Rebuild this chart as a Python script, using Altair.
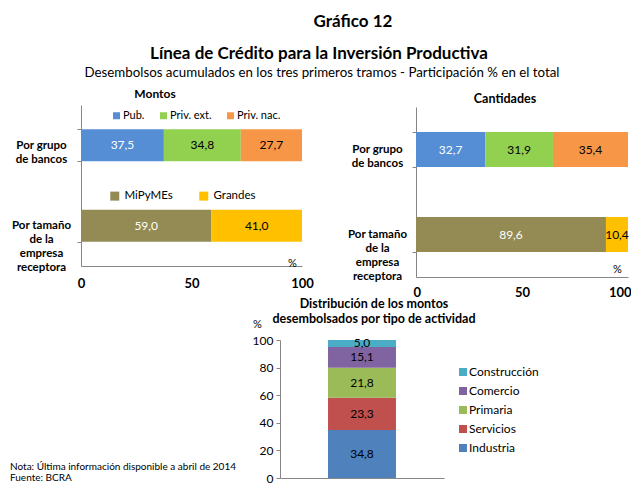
import altair as alt
import pandas as pd

FONT = "Lato"
GRAY = "#868686"
W, H = 623, 476          # whole drawing area (page minus 8px margin)

# ---------------- data ----------------
filas = ["Por grupo\nde bancos", "Por tamaño\nde la\nempresa\nreceptora"]
grupos = ["Pub.", "Priv. ext.", "Priv. nac."]
tamanos = ["MiPyMEs", "Grandes"]
montos_grupo = [37.5, 34.8, 27.7]
montos_tamano = [59.0, 41.0]
cant_grupo = [32.7, 31.9, 35.4]
cant_tamano = [89.6, 10.4]
actividades = ["Industria", "Servicios", "Primaria", "Comercio", "Construcción"]
act_vals = [34.8, 23.3, 21.8, 15.1, 5.0]
x_ticks = [0, 50, 100]
y_ticks = [0, 20, 40, 60, 80, 100]
titulo = "Gráfico 12"
titulo2 = "Línea de Crédito para la Inversión Productiva"
subtitulo = "Desembolsos acumulados en los tres primeros tramos - Participación % en el total"
t_montos = "Montos"
t_cant = "Cantidades"
t_dist = ["Distribución de los montos", "desembolsados por tipo de actividad"]
notas = ["Nota: Última información disponible a abril de 2014", "Fuente: BCRA"]
blancos = ["Pub.", "MiPyMEs"]

col_grupos = ["#558ED5", "#92D050", "#F79646"]
col_tamanos = ["#948A54", "#FFC000"]
col_act = ["#4F81BD", "#C0504D", "#9BBB59", "#8064A2", "#4BACC6"]


def stacked(fila, series, vals):
    rows, acc = [], 0.0
    for i, (s, v) in enumerate(zip(series, vals)):
        rows.append({"fila": fila, "serie": s, "val": v, "x0": acc,
                     "x1": acc + v, "mid": acc + v / 2, "orden": i})
        acc += v
    return pd.DataFrame(rows)


LBL = "replace(format(datum.val, '.1f'), '.', ',')"
TC = "indexof(" + str(blancos) + ", datum.serie) >= 0 ? 'white' : 'black'"


def label(txt, x, y, size, weight="normal", align="center"):
    return alt.Chart(pd.DataFrame({"t": [txt]})).mark_text(
        font=FONT, fontSize=size, fontWeight=weight, align=align,
        baseline="alphabetic", color="black").encode(
        x=alt.value(x), y=alt.value(y), text="t:N")


def panel(g_vals, t_vals, xr, yr, pin, pout, pct_x, pct_y, lpad, xpad, flush, show_leg):
    df_g = stacked(filas[0], grupos, g_vals)
    df_t = stacked(filas[1], tamanos, t_vals)
    df_all = pd.concat([df_g, df_t], ignore_index=True)
    xscale = alt.Scale(domain=[0, 100], range=xr, nice=False)
    yscale = alt.Scale(domain=filas, range=yr, paddingInner=pin, paddingOuter=pout)
    yaxis = alt.Axis(orient="left", offset=-xr[0], title=None,
                     labelExpr="datum.value ? split(datum.value, '\\n') : ''",
                     labelFont=FONT, labelFontSize=11.5, labelFontWeight="bold",
                     labelColor="black", labelAlign="center", labelPadding=lpad,
                     labelLineHeight=14, domainColor=GRAY, tickColor=GRAY,
                     tickBand="extent", tickSize=4, grid=False)
    xaxis = alt.Axis(orient="bottom", offset=yr[1] - H, values=x_ticks, grid=False,
                     ticks=False, labelFont=FONT, labelFontSize=13,
                     labelFontWeight="bold", labelColor="black", labelPadding=xpad,
                     labelFlush=flush, labelFlushOffset=3 if flush else 0,
                     domainColor=GRAY, title="%", titleFont=FONT,
                     titleFontSize=11, titleFontWeight="normal", titleX=pct_x,
                     titleY=pct_y, titleBaseline="alphabetic", titleAlign="center")
    leg_g = alt.Legend(orient="none", legendX=xr[0] + 30, legendY=yr[0] + 5,
                       direction="horizontal", title=None, symbolType="square",
                       symbolSize=49, symbolStrokeWidth=0, labelFont=FONT,
                       labelFontSize=11, labelColor="black", columnPadding=13,
                       labelOffset=1)
    leg_t = alt.Legend(orient="none", legendX=xr[0] + 28, legendY=yr[0] + 85,
                       direction="horizontal", title=None, symbolType="square",
                       symbolSize=81, symbolStrokeWidth=0, labelFont=FONT,
                       labelFontSize=11.5, labelColor="black", columnPadding=25,
                       labelOffset=4)
    bars_g = alt.Chart(df_g).mark_bar().encode(
        x=alt.X("x0:Q", scale=xscale, axis=xaxis), x2="x1",
        y=alt.Y("fila:N", sort=filas, scale=yscale, axis=yaxis),
        color=alt.Color("serie:N", scale=alt.Scale(domain=grupos, range=col_grupos),
                        legend=leg_g if show_leg else None),
    )
    bars_t = alt.Chart(df_t).mark_bar().encode(
        x=alt.X("x0:Q", scale=xscale, axis=None), x2="x1",
        y=alt.Y("fila:N", sort=filas, scale=yscale, axis=None),
        color=alt.Color("serie:N", scale=alt.Scale(domain=tamanos, range=col_tamanos),
                        legend=leg_t if show_leg else None),
    )
    text = alt.Chart(df_all).transform_calculate(lbl=LBL, tc=TC).mark_text(
        font=FONT, fontSize=12).encode(
        x=alt.X("mid:Q", scale=xscale, axis=None),
        y=alt.Y("fila:N", sort=filas, scale=yscale, axis=None),
        text="lbl:N",
        color=alt.Color("tc:N", scale=None, legend=None),
    )
    return [bars_g, bars_t, text]


# Montos (left) and Cantidades (right) panels; ranges in chart pixels
layers_A = panel(montos_grupo, montos_tamano, [73, 294], [97, 258], 0.6, 0.3,
                 284, 0, 36, 11, False, True)
layers_B = panel(cant_grupo, cant_tamano, [408, 620], [99, 269], 0.588, 0.294,
                 609, -5, 35, 9, True, False)

# bottom chart: distribution by activity
df_a = stacked("Total", actividades, act_vals)
xs_c = alt.Scale(domain=["Total"], range=[272, 436], paddingInner=0.414, paddingOuter=0.414)
ys_c = alt.Scale(domain=[0, 100], range=[470, 332], nice=False)
bars_a = alt.Chart(df_a).mark_bar().encode(
    x=alt.X("fila:N", scale=xs_c,
            axis=alt.Axis(orient="bottom", offset=470 - H, labels=False, ticks=False,
                          title=None, domainColor=GRAY, grid=False)),
    y=alt.Y("x0:Q", scale=ys_c,
            axis=alt.Axis(orient="left", offset=-272, values=y_ticks, grid=False,
                          title="%", titleAngle=0, titleX=-23, titleY=316,
                          titleBaseline="middle", titleFont=FONT, titleFontSize=11,
                          titleFontWeight="normal", titleAlign="center",
                          labelFont=FONT, labelFontSize=12, labelColor="black",
                          labelOverlap=False, labelFlush=False, domainColor=GRAY,
                          tickColor=GRAY, tickSize=4, labelPadding=3)),
    y2="x1",
    color=alt.Color("serie:N",
                    scale=alt.Scale(domain=actividades[::-1], range=col_act[::-1]),
                    legend=alt.Legend(orient="none", legendX=449, legendY=358, title=None,
                                      direction="vertical", symbolType="square",
                                      symbolSize=64, symbolStrokeWidth=0,
                                      labelFont=FONT, labelFontSize=12,
                                      labelColor="black", rowPadding=7, labelOffset=0)),
)
text_a = alt.Chart(df_a).transform_calculate(lbl=LBL).mark_text(
    font=FONT, fontSize=12, color="black").encode(
    x=alt.X("fila:N", scale=xs_c, axis=None),
    y=alt.Y("mid:Q", scale=ys_c, axis=None), text="lbl:N")

texts = [
    label(titulo, 345, 19, 17, "bold"),
    label(titulo2, 311, 51, 17, "bold"),
    label(subtitulo, 314, 69, 13.3),
    label(t_montos, 147, 90, 12, "bold"),
    label(t_cant, 497, 95, 12.5, "bold"),
    label(t_dist[0], 366, 300, 12.5, "bold"),
    label(t_dist[1], 366, 315, 12.5, "bold"),
    label(notas[0], 2, 462, 10, align="left"),
    label(notas[1], 2, 473, 10, align="left"),
]

chart = alt.layer(*layers_A, *layers_B, bars_a, text_a, *texts).resolve_scale(
    x="independent", y="independent", color="independent"
).properties(
    width=W, height=H, padding=0,
    autosize=alt.AutoSizeParams(type="none"),
).configure_view(stroke=None)

chart.save("out.html", embed_options={"renderer": "svg", "actions": False})
